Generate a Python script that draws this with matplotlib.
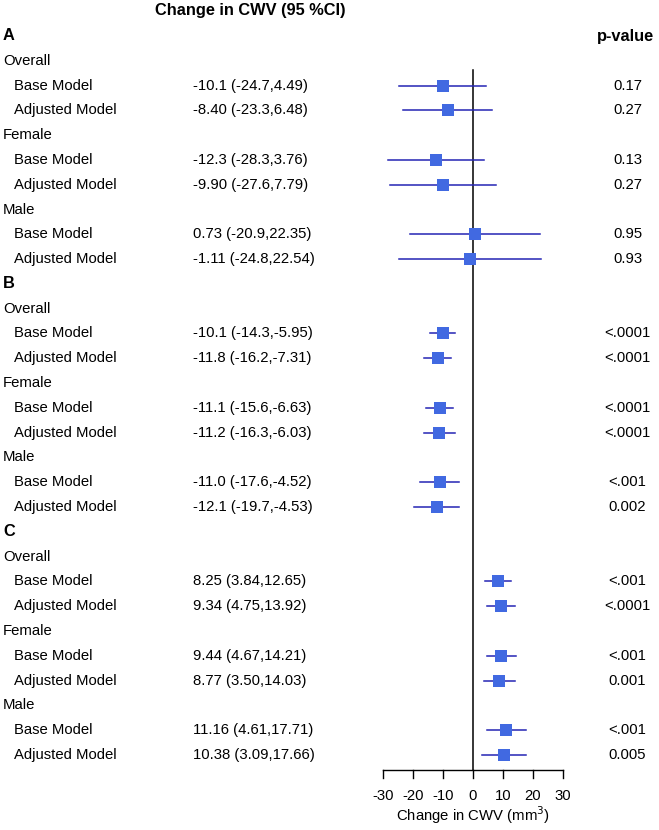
import matplotlib.pyplot as plt
import matplotlib.transforms as mtransforms

plt.rcParams['font.family'] = ['Liberation Sans', 'DejaVu Sans']

panels = ['A', 'B', 'C']
groups = ['Overall', 'Female', 'Male']
models = ['Base Model', 'Adjusted Model']

# per panel: 6 rows (Overall base/adj, Female base/adj, Male base/adj)
est_text = [
    ['-10.1', '-8.40', '-12.3', '-9.90', '0.73', '-1.11'],
    ['-10.1', '-11.8', '-11.1', '-11.2', '-11.0', '-12.1'],
    ['8.25', '9.34', '9.44', '8.77', '11.16', '10.38'],
]
lo_text = [
    ['-24.7', '-23.3', '-28.3', '-27.6', '-20.9', '-24.8'],
    ['-14.3', '-16.2', '-15.6', '-16.3', '-17.6', '-19.7'],
    ['3.84', '4.75', '4.67', '3.50', '4.61', '3.09'],
]
hi_text = [
    ['4.49', '6.48', '3.76', '7.79', '22.35', '22.54'],
    ['-5.95', '-7.31', '-6.63', '-6.03', '-4.52', '-4.53'],
    ['12.65', '13.92', '14.21', '14.03', '17.71', '17.66'],
]
pvals = [
    ['0.17', '0.27', '0.13', '0.27', '0.95', '0.93'],
    ['<.0001', '<.0001', '<.0001', '<.0001', '<.001', '0.002'],
    ['<.001', '<.0001', '<.001', '0.001', '<.001', '0.005'],
]
xticks = [-30, -20, -10, 0, 10, 20, 30]

W, H = 659, 830
fig = plt.figure(figsize=(W / 100, H / 100), dpi=100)
ax = fig.add_axes([0, 0, 1, 1])
ax.axis('off')

# pixel mapping: x=-30 -> 383px, x=30 -> 563px; row 0 -> 36px, 24.79 px per row
px_per_unit = (563 - 383) / 60.0
x0 = 473.0
row0, row_h = 36.0, 24.79
ax.set_xlim(-x0 / px_per_unit, (W - x0) / px_per_unit)
ax.set_ylim((H - row0) / row_h, -row0 / row_h)

tr = mtransforms.blended_transform_factory(fig.transFigure, ax.transData)


def px(x):
    return x / W


def py(y):
    return (y - row0) / row_h


fs = 10.7
fs_head = 11.8
line_col = '#2424b4'
box_col = '#4169e1'

ax.text(px(155), py(10), 'Change in CWV (95 %CI)', transform=tr, fontsize=fs_head,
        fontweight='bold', va='center', ha='left')
ax.text(px(625), 0, 'p-value', transform=tr, fontsize=fs_head,
        fontweight='bold', va='center', ha='center')

row = 0
for p, panel in enumerate(panels):
    ax.text(px(3), row, panel, transform=tr, fontsize=fs_head,
            fontweight='bold', va='center')
    row += 1
    k = 0
    for g in groups:
        ax.text(px(3), row, g, transform=tr, fontsize=fs, va='center')
        row += 1
        for m in models:
            est = float(est_text[p][k])
            lo = float(lo_text[p][k])
            hi = float(hi_text[p][k])
            ax.text(px(14), row, m, transform=tr, fontsize=fs, va='center')
            ax.text(px(193), row, f'{est_text[p][k]} ({lo_text[p][k]},{hi_text[p][k]})',
                    transform=tr, fontsize=fs, va='center')
            ax.text(px(627.5), row, pvals[p][k], transform=tr, fontsize=fs,
                    va='center', ha='center')
            ax.plot([lo, hi], [row, row], color=line_col, lw=1.1, zorder=2)
            ax.plot(est, row, marker='s', ms=8, color=box_col,
                    markeredgewidth=0, zorder=3)
            row += 1
            k += 1

# reference line and bottom axis
y_axis = py(770)
ax.plot([0, 0], [py(70), y_axis], color='black', lw=1.1, zorder=1)
ax.plot([xticks[0], xticks[-1]], [y_axis, y_axis], color='black', lw=1.0)
for t in xticks:
    ax.plot([t, t], [y_axis, py(778)], color='black', lw=1.0)
    ax.text(t, py(796), str(t), fontsize=fs, ha='center', va='center')
ax.text(0, py(815), 'Change in CWV (mm$^3$)', fontsize=fs,
        ha='center', va='center')

fig.savefig('out.png', dpi=100)
